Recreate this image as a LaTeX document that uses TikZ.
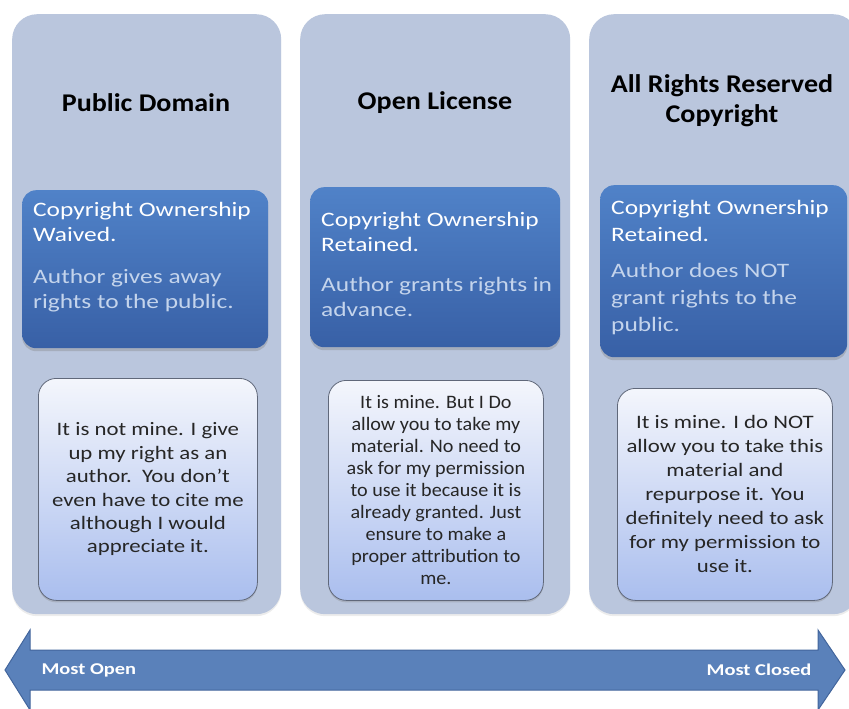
\documentclass[tikz,border=0pt]{standalone}
\usepackage{fontspec}
\setmainfont{Carlito}
\newfontfamily\headfont[FakeStretch=1.1]{Carlito}
\newfontfamily\bodyfont[FakeStretch=1.24]{Carlito}
\newfontfamily\notefont[FakeStretch=1.2]{Carlito}
\newfontfamily\tightfont[FakeStretch=1.06]{Carlito}
\usepackage{xcolor}
\usepackage{tikz}
\definecolor{panelfill}{RGB}{186,198,221}
\definecolor{bluetop}{RGB}{80,130,200}
\definecolor{bluebot}{RGB}{56,96,166}
\definecolor{bluesub}{RGB}{196,212,236}
\definecolor{notetop}{RGB}{244,246,252}
\definecolor{notebot}{RGB}{170,190,238}
\definecolor{notedraw}{RGB}{96,104,122}
\definecolor{notetext}{RGB}{38,38,38}
\definecolor{arrowfill}{RGB}{90,129,186}
\definecolor{arrowdraw}{RGB}{66,101,156}
\usetikzlibrary{shadows,calc}

\begin{document}
\begin{tikzpicture}[x=1pt, y=-1pt,
    panel/.style={fill=panelfill, rounded corners=25pt, anchor=north west,
        minimum height=600pt, drop shadow={opacity=0.15, shadow xshift=0pt, shadow yshift=-2pt}},
    title/.style={font=\headfont\fontsize{25.5}{30}\selectfont\bfseries, align=center, text=black},
    bluebox/.style={top color=bluetop, bottom color=bluebot, rounded corners=14pt, anchor=north west,
        drop shadow={opacity=0.35, shadow xshift=0pt, shadow yshift=-3pt}},
    bluetext/.style={anchor=north west, align=left, text=white, inner sep=0pt,
        font=\bodyfont\fontsize{20.5}{25.5}\selectfont},
    notebox/.style={top color=notetop, bottom color=notebot, draw=notedraw, line width=0.8pt,
        rounded corners=18pt, anchor=north west,
        drop shadow={opacity=0.3, shadow xshift=0pt, shadow yshift=-2pt}},
    notetext/.style={align=center, text=notetext, font=\notefont\fontsize{19}{23.4}\selectfont},
    endlabel/.style={text=white, font=\bodyfont\fontsize{16.5}{20}\selectfont\bfseries}]
    \useasboundingbox (0,0) rectangle (849,709);

    % three columns
    \node[panel, minimum width=269pt] (pdpanel) at (12,14) {};
    \node[panel, minimum width=270pt] (olpanel) at (300,14) {};
    \node[panel, minimum width=269pt] (arpanel) at (589,14) {};

    \node[title] (pdtitle) at (146,103) {Public Domain};
    \node[title] (oltitle) at (435,103) {Open License};
    \node[title] (artitle) at (722,101) {All Rights Reserved\\Copyright};

    % ownership boxes
    \node[bluebox, minimum width=246pt, minimum height=158pt] (pdblue) at (22,190) {};
    \node[bluebox, minimum width=250pt, minimum height=160pt] (olblue) at (310,187) {};
    \node[bluebox, minimum width=247pt, minimum height=172pt] (arblue) at (600,185) {};

    \node[bluetext] (pdown) at ($(pdblue.north west)+(11,12)$)
        {Copyright Ownership\\Waived.\\[16pt]\textcolor{bluesub}{Author gives away}\\\textcolor{bluesub}{rights to the public.}};
    \node[bluetext] (olown) at ($(olblue.north west)+(11,25)$)
        {Copyright Ownership\\Retained.\\[14pt]\textcolor{bluesub}{Author grants rights in}\\\textcolor{bluesub}{advance.}};
    \node[bluetext, font=\bodyfont\fontsize{20.5}{27}\selectfont] (arown) at ($(arblue.north west)+(11,15)$)
        {Copyright Ownership\\Retained.\\[9pt]\textcolor{bluesub}{Author does NOT}\\\textcolor{bluesub}{grant rights to the}\\\textcolor{bluesub}{public.}};

    % what the author says
    \node[notebox, minimum width=219pt, minimum height=222pt] (pdnote) at (38,378) {};
    \node[notebox, minimum width=215pt, minimum height=220pt] (olnote) at (328,380) {};
    \node[notebox, minimum width=215pt, minimum height=212pt] (arnote) at (617,388) {};

    \node[notetext] (pdsay) at (pdnote.center)
        {It is not mine. I give\\up my right as an\\author.\ \ You don’t\\even have to cite me\\although I would\\appreciate it.};
    \node[notetext, font=\tightfont\fontsize{19}{22}\selectfont] (olsay) at (olnote.center)
        {It is mine. But I Do\\allow you to take my\\material. No need to\\ask for my permission\\to use it because it is\\already granted. Just\\ensure to make a\\proper attribution to\\me.};
    \node[notetext, font=\notefont\fontsize{19}{24}\selectfont] (arsay) at (arnote.center)
        {It is mine. I do NOT\\allow you to take this\\material and\\repurpose it. You\\definitely need to ask\\for my permission to\\use it.};

    % open to closed scale
    \draw[fill=arrowfill, draw=arrowdraw, line width=1pt, line join=miter]
        (5,670) -- (30,630) -- (30,650) -- (818,650) -- (818,630) -- (845,670)
        -- (818,710) -- (818,690) -- (30,690) -- (30,710) -- cycle;
    \node[endlabel, anchor=west] (mostopen) at (38,670) {Most Open};
    \node[endlabel, anchor=east] (mostclosed) at (815,670) {Most Closed};
\end{tikzpicture}
\end{document}
